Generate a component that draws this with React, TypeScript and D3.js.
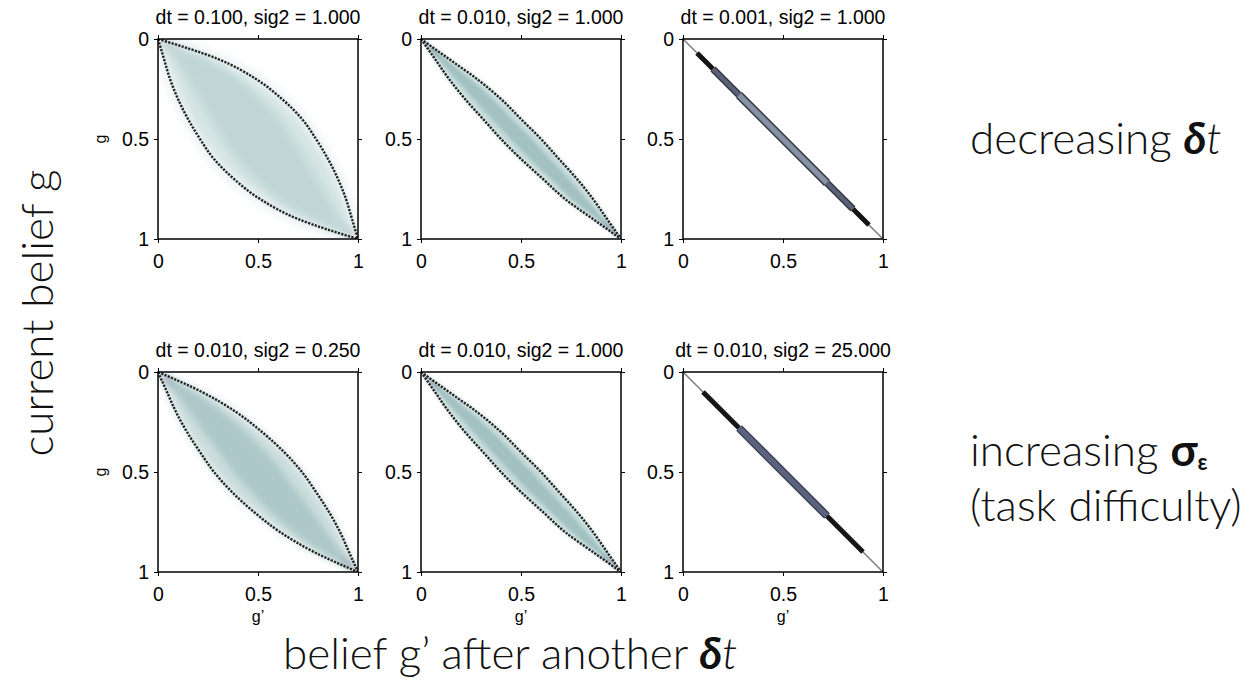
import React, { useEffect, useRef } from 'react';
import * as d3 from 'd3';

// current belief g (rows of every panel)
const gGrid = [0, 0.1, 0.2, 0.3, 0.4, 0.5, 0.6, 0.7, 0.8, 0.9, 1];

// bounds of g' reached from g
const upperDt100 = [0, 0.30, 0.49, 0.62, 0.72, 0.79, 0.85, 0.90, 0.94, 0.97, 1];
const lowerDt100 = [0, 0.03, 0.06, 0.10, 0.15, 0.21, 0.28, 0.38, 0.51, 0.70, 1];
const upperDt010 = [0, 0.14, 0.28, 0.40, 0.50, 0.60, 0.69, 0.78, 0.86, 0.93, 1];
const lowerDt010 = [0, 0.07, 0.14, 0.22, 0.31, 0.40, 0.50, 0.61, 0.72, 0.86, 1];
const upperSig025 = [0, 0.22, 0.39, 0.52, 0.63, 0.72, 0.79, 0.855, 0.91, 0.955, 1];
const lowerSig025 = [0, 0.045, 0.09, 0.145, 0.21, 0.28, 0.37, 0.48, 0.61, 0.78, 1];

// almost deterministic panels: pieces of the diagonal [from, to, kind]
const diagDt001: [number, number, string][] = [
  [0.07, 0.15, 'core'], [0.15, 0.28, 'mid'], [0.28, 0.72, 'wide'], [0.72, 0.85, 'mid'], [0.85, 0.93, 'core'],
];
const diagSig25: [number, number, string][] = [
  [0.10, 0.28, 'core'], [0.28, 0.72, 'band'], [0.72, 0.90, 'core'],
];

const titles = [
  'dt = 0.100, sig2 = 1.000',
  'dt = 0.010, sig2 = 1.000',
  'dt = 0.001, sig2 = 1.000',
  'dt = 0.010, sig2 = 0.250',
  'dt = 0.010, sig2 = 1.000',
  'dt = 0.010, sig2 = 25.000',
];
const tickValues = [0, 0.5, 1];

const SIZE = 200;
const COL_X = [158, 421, 683];
const ROW_Y = [39, 372];

const panels = [
  { col: 0, row: 0, upper: upperDt100, lower: lowerDt100, look: 'broad' },
  { col: 1, row: 0, upper: upperDt010, lower: lowerDt010, look: 'narrow' },
  { col: 2, row: 0, diag: diagDt001 },
  { col: 0, row: 1, upper: upperSig025, lower: lowerSig025, look: 'medium' },
  { col: 1, row: 1, upper: upperDt010, lower: lowerDt010, look: 'narrow' },
  { col: 2, row: 1, diag: diagSig25 },
];

const looks: Record<string, any> = {
  broad: { blur: 7, outer: '#d3e4e3', core: '#c0d6d5', coreFrac: 0.6, tip: 0.06 },
  medium: { blur: 4.5, outer: '#c9dddc', core: '#adc8c8', coreFrac: 0.55, tip: 0.08 },
  narrow: { blur: 2.5, outer: '#c0d8d7', core: '#a3c1c1', coreFrac: 0.5, tip: 0.1 },
};

const diagStyles: Record<string, { w: number; c: string }[]> = {
  core: [{ w: 5, c: '#151515' }],
  mid: [{ w: 7, c: '#30343f' }, { w: 4.5, c: '#5b6276' }],
  wide: [{ w: 8.5, c: '#30343f' }, { w: 5.5, c: '#8592a4' }],
  band: [{ w: 8, c: '#363b4b' }, { w: 5.5, c: '#5a6280' }],
};

const TICK_FONT = 'Liberation Sans, Arial, Helvetica, sans-serif';
const BIG_FONT = 'Lato, Open Sans, sans-serif';

const App = () => {
  const svgRef = useRef<SVGSVGElement>(null);

  useEffect(() => {
    const root = d3.select(svgRef.current).select('g.plots');
    root.selectAll('*').remove();
    const defs = root.append('defs');

    const x = d3.scaleLinear().domain([0, 1]).range([0, SIZE]);
    const y = d3.scaleLinear().domain([0, 1]).range([0, SIZE]);
    const fmt = (d: any) => (d === 0.5 ? '0.5' : String(d));
    const styleAxis = (sel: any) => {
      sel.select('.domain').remove();
      sel.attr('font-size', 19.5).attr('font-family', TICK_FONT);
    };

    panels.forEach((p: any, i) => {
      const g = root.append('g').attr('transform', `translate(${COL_X[p.col]},${ROW_Y[p.row]})`);
      defs.append('clipPath').attr('id', `clip${i}`)
        .append('rect').attr('width', SIZE).attr('height', SIZE);
      const body = g.append('g').attr('clip-path', `url(#clip${i})`);

      if (p.upper) {
        const look = looks[p.look];
        const rows = gGrid.map((v, k) => ({ g: v, lo: p.lower[k], hi: p.upper[k] }));

        defs.append('filter').attr('id', `blur${i}`)
          .attr('x', '-20%').attr('y', '-20%').attr('width', '140%').attr('height', '140%')
          .append('feGaussianBlur').attr('stdDeviation', look.blur);
        defs.append('filter').attr('id', `blurCore${i}`)
          .attr('x', '-20%').attr('y', '-20%').attr('width', '140%').attr('height', '140%')
          .append('feGaussianBlur').attr('stdDeviation', look.blur * 0.7);
        const grad = defs.append('linearGradient').attr('id', `grad${i}`)
          .attr('x1', 0).attr('y1', 0).attr('x2', 1).attr('y2', 1);
        grad.append('stop').attr('offset', 0).attr('stop-color', '#5e6184');
        grad.append('stop').attr('offset', look.tip).attr('stop-color', look.core);
        grad.append('stop').attr('offset', 1 - look.tip).attr('stop-color', look.core);
        grad.append('stop').attr('offset', 1).attr('stop-color', '#5e6184');

        const area = d3.area<any>()
          .y(d => y(d.g)).x0(d => x(d.lo)).x1(d => x(d.hi))
          .curve(d3.curveMonotoneY);

        body.append('path').attr('d', area(rows))
          .attr('fill', look.outer).attr('filter', `url(#blur${i})`);

        const core = rows.map(r => {
          const m = (r.lo + r.hi) / 2;
          const h = ((r.hi - r.lo) / 2) * look.coreFrac;
          return { g: r.g, lo: m - h, hi: m + h };
        });
        body.append('path').attr('d', area(core))
          .attr('fill', `url(#grad${i})`).attr('filter', `url(#blurCore${i})`);

        ['lo', 'hi'].forEach(key => {
          const line = d3.line<any>().x(d => x(d[key])).y(d => y(d.g)).curve(d3.curveMonotoneY);
          body.append('path').attr('d', line(rows))
            .attr('fill', 'none').attr('stroke', '#222')
            .attr('stroke-width', 2.4).attr('stroke-dasharray', '2.2 1.3');
        });
      }

      if (p.diag) {
        body.append('line')
          .attr('x1', x(0)).attr('y1', y(0)).attr('x2', x(1)).attr('y2', y(1))
          .attr('stroke', '#7d7d7d').attr('stroke-width', 1.5);
        p.diag.forEach(([a, b, kind]: [number, number, string]) => {
          diagStyles[kind].forEach(s => {
            body.append('line')
              .attr('x1', x(a)).attr('y1', y(a)).attr('x2', x(b)).attr('y2', y(b))
              .attr('stroke', s.c).attr('stroke-width', s.w);
          });
        });
      }

      g.append('g').attr('transform', `translate(0,${SIZE})`)
        .call(d3.axisBottom(x).tickValues(tickValues).tickFormat(fmt).tickSize(4).tickSizeOuter(0).tickPadding(11))
        .call(styleAxis);
      g.append('g')
        .call(d3.axisLeft(y).tickValues(tickValues).tickFormat(fmt).tickSize(4).tickSizeOuter(0).tickPadding(5))
        .call(styleAxis);
      g.append('g')
        .call(d3.axisTop(x).tickValues(tickValues).tickFormat(() => '').tickSize(4).tickSizeOuter(0))
        .call(styleAxis);
      g.append('g').attr('transform', `translate(${SIZE},0)`)
        .call(d3.axisRight(y).tickValues(tickValues).tickFormat(() => '').tickSize(4).tickSizeOuter(0))
        .call(styleAxis);

      g.append('rect').attr('width', SIZE).attr('height', SIZE)
        .attr('fill', 'none').attr('stroke', '#000').attr('stroke-width', 1.5);

      g.append('text')
        .attr('x', SIZE / 2).attr('y', -15)
        .attr('text-anchor', 'middle')
        .attr('font-family', TICK_FONT).attr('font-size', 19.5)
        .text(titles[i]);

      if (p.col === 0) {
        g.append('text')
          .attr('transform', `translate(-52,${SIZE / 2}) rotate(-90)`)
          .attr('text-anchor', 'middle')
          .attr('font-family', TICK_FONT).attr('font-size', 16)
          .text('g');
      }
      if (p.row === 1) {
        g.append('text')
          .attr('x', SIZE / 2).attr('y', SIZE + 50)
          .attr('text-anchor', 'middle')
          .attr('font-family', TICK_FONT).attr('font-size', 16)
          .text('g\u2019');
      }
    });
  }, []);

  return (
    <svg ref={svgRef} width={1253} height={689}
      style={{ position: 'absolute', left: 0, top: 0, background: '#fff' }}>
      <g className="plots" />
      <g fontFamily={BIG_FONT} fontWeight={300} fontSize={44} fill="#111">
        <text transform="translate(53,313) rotate(-90)" textAnchor="middle">current belief g</text>
        <text x={283} y={669}>
          belief g{'\u2019'} after another <tspan fontWeight={700} fontStyle="italic">δ</tspan>
          <tspan fontStyle="italic">t</tspan>
        </text>
        <text x={970} y={154}>
          decreasing <tspan fontWeight={700} fontStyle="italic">δ</tspan>
          <tspan fontStyle="italic">t</tspan>
        </text>
        <text x={970} y={466}>
          increasing <tspan fontWeight={700}>σ</tspan>
          <tspan fontWeight={700} fontSize={22} dy={4}>ε</tspan>
        </text>
        <text x={970} y={521}>(task difficulty)</text>
      </g>
    </svg>
  );
};

export default App;
